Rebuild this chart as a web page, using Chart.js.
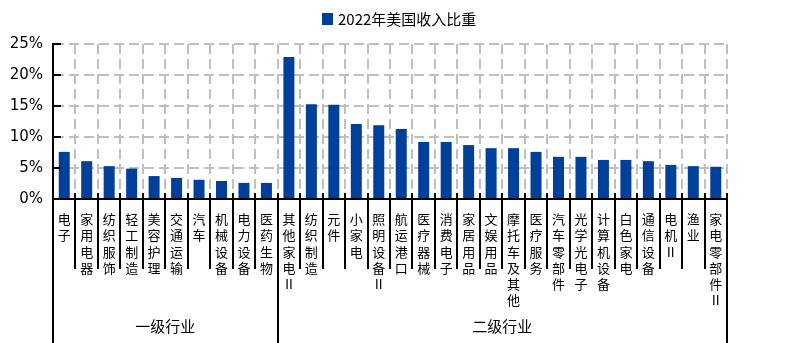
<!DOCTYPE html>
<html>
<head>
<meta charset="utf-8">
<script src="https://cdn.jsdelivr.net/npm/chart.js@4/dist/chart.umd.min.js"></script>
<style>
  html, body { margin: 0; padding: 0; background: #fff; }
  canvas { display: block; }
</style>
</head>
<body>
<canvas id="c" width="796" height="343"></canvas>
<script>
// Share of 2022 revenue earned in the US, by industry (%)
const seriesName = '2022年美国收入比重';

const level1Names = ['电子', '家用电器', '纺织服饰', '轻工制造', '美容护理', '交通运输', '汽车', '机械设备', '电力设备', '医药生物'];
const level1Values = [7.6, 6.1, 5.3, 4.9, 3.7, 3.4, 3.1, 2.9, 2.6, 2.6];

const level2Names = ['其他家电Ⅱ', '纺织制造', '元件', '小家电', '照明设备Ⅱ', '航运港口', '医疗器械', '消费电子', '家居用品', '文娱用品',
                     '摩托车及其他', '医疗服务', '汽车零部件', '光学光电子', '计算机设备', '白色家电', '通信设备', '电机Ⅱ', '渔业', '家电零部件Ⅱ'];
const level2Values = [22.9, 15.3, 15.2, 12.1, 11.9, 11.3, 9.2, 9.2, 8.7, 8.2,
                      8.2, 7.6, 6.8, 6.8, 6.3, 6.3, 6.1, 5.5, 5.3, 5.2];

const groupNames = ['一级行业', '二级行业'];
const yTicks = [0, 5, 10, 15, 20, 25];

const categories = level1Names.concat(level2Names);
const values = level1Values.concat(level2Values);
const groupSizes = [level1Names.length, level2Names.length];

const BAR_COLOR = '#00409A';
const GRID_COLOR = '#BFBFBF';
const CJK = '"Noto Sans CJK SC", "Noto Sans", sans-serif';

// Inward axis ticks, category separators, stacked vertical labels, group names and legend
const decor = {
  id: 'decor',
  afterDraw(chart) {
    const { ctx, chartArea: a, scales: { x, y } } = chart;
    const n = categories.length;
    ctx.save();

    ctx.strokeStyle = '#000';
    ctx.lineWidth = 2;
    yTicks.forEach(v => {
      if (v === 0) return;
      const py = Math.round(y.getPixelForValue(v));
      ctx.beginPath();
      ctx.moveTo(a.left, py);
      ctx.lineTo(a.left + 8, py);
      ctx.stroke();
    });

    const groupEdges = new Set([0]);
    let acc = 0;
    groupSizes.forEach(s => { acc += s; groupEdges.add(acc); });
    for (let i = 0; i <= n; i++) {
      const px = Math.round(x.getPixelForValue(i - 0.5));
      ctx.beginPath();
      ctx.moveTo(px, a.bottom - 6);
      ctx.lineTo(px, groupEdges.has(i) ? chart.height : a.bottom + 70);
      ctx.stroke();
    }

    ctx.fillStyle = '#000';
    ctx.textAlign = 'center';
    ctx.textBaseline = 'middle';
    ctx.font = '13px ' + CJK;
    categories.forEach((name, i) => {
      const px = x.getPixelForValue(i);
      Array.from(name).forEach((ch, k) => {
        ctx.fillText(ch, px, a.bottom + 20 + k * 16.3);
      });
    });

    ctx.font = '15px ' + CJK;
    let start = 0;
    groupSizes.forEach((s, g) => {
      const l = x.getPixelForValue(start - 0.5);
      const r = x.getPixelForValue(start + s - 0.5);
      ctx.fillText(groupNames[g], (l + r) / 2, a.bottom + 127);
      start += s;
    });

    // legend
    ctx.font = '15px ' + CJK;
    const box = 11, gap = 5;
    const tw = ctx.measureText(seriesName).width;
    const lx = Math.round((chart.width - (box + gap + tw)) / 2) + 1;
    const ly = 19;
    ctx.fillStyle = BAR_COLOR;
    ctx.fillRect(lx, ly - 6, box, box + 1);
    ctx.fillStyle = '#000';
    ctx.textAlign = 'left';
    ctx.fillText(seriesName, lx + box + gap, ly);

    ctx.restore();
  }
};

new Chart(document.getElementById('c'), {
  type: 'bar',
  data: {
    labels: categories,
    datasets: [{
      label: seriesName,
      data: values,
      backgroundColor: BAR_COLOR,
      borderWidth: 0,
      barPercentage: 0.49,
      categoryPercentage: 1.0
    }]
  },
  options: {
    responsive: false,
    devicePixelRatio: 1,
    animation: false,
    layout: { padding: { top: 44, right: 69, left: 0, bottom: 0 } },
    plugins: {
      legend: { display: false },
      tooltip: { enabled: false }
    },
    scales: {
      x: {
        ticks: { display: false },
        grid: {
          offset: true,
          drawTicks: false,
          lineWidth: 2,
          color: c => (c.index === 0 ? 'rgba(0,0,0,0)' : GRID_COLOR)
        },
        border: { color: '#000', width: 2, dash: [10, 5] },
        afterFit: s => { s.height = 144; }
      },
      y: {
        min: 0,
        max: 25,
        ticks: {
          stepSize: 5,
          padding: 10,
          color: '#000',
          font: { family: '"DejaVu Sans", sans-serif', size: 15 },
          callback: v => v + '%'
        },
        grid: {
          drawTicks: false,
          lineWidth: 2,
          color: c => (c.tick && c.tick.value === 0 ? 'rgba(0,0,0,0)' : GRID_COLOR)
        },
        border: { color: '#000', width: 2, dash: [10, 5] },
        afterFit: s => { s.width = 53; }
      }
    }
  },
  plugins: [decor]
});
</script>
</body>
</html>
